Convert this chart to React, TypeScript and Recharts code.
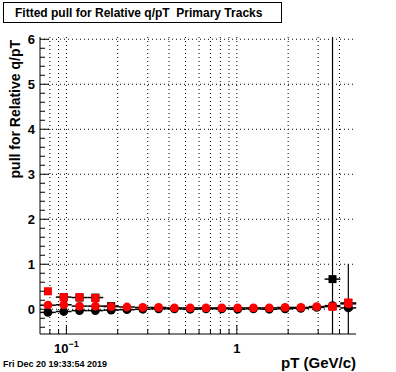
import React from 'react';
import { ScatterChart, Scatter, XAxis, YAxis, CartesianGrid, ErrorBar } from 'recharts';

// ---- data ----
const binEdges = [0.07, 0.0867, 0.1073, 0.1328, 0.1645, 0.2036, 0.2521, 0.3121, 0.3865, 0.4785, 0.5924, 0.7335, 0.9081, 1.1243, 1.392, 1.7235, 2.1339, 2.642, 3.2711, 4.0499, 5.0142];
const binCenters = [0.0779, 0.0965, 0.1194, 0.1479, 0.1831, 0.2267, 0.2807, 0.3475, 0.4302, 0.5327, 0.6595, 0.8165, 1.0109, 1.2516, 1.5496, 1.9186, 2.3754, 2.941, 3.641, 4.508];

// y errors: [below, above], as far as they are visible inside the frame
const blackCircleY = [-0.07, -0.05, -0.03, -0.03, -0.02, -0.01, 0.0, 0.01, 0.01, 0.0, 0.01, 0.01, 0.0, 0.01, 0.0, 0.01, 0.02, 0.04, 0.08, 0.03];
const blackCircleErr = [[0.02, 0.02], [0.02, 0.02], [0.02, 0.02], [0.02, 0.02], [0.02, 0.02], [0.02, 0.02], [0.02, 0.02], [0.02, 0.02], [0.02, 0.02], [0.02, 0.02], [0.02, 0.02], [0.02, 0.02], [0.02, 0.02], [0.02, 0.02], [0.02, 0.02], [0.03, 0.03], [0.03, 0.03], [0.04, 0.04], [0.06, 0.06], [0.58, 0.97]];
const blackSquareY: (number | null)[] = [null, 0.27, 0.26, 0.26, 0.07, null, null, null, null, null, null, null, null, null, null, null, null, null, 0.67, 0.14];
const blackSquareErr = [[0, 0], [0.03, 0.03], [0.03, 0.03], [0.03, 0.03], [0.03, 0.03], [0, 0], [0, 0], [0, 0], [0, 0], [0, 0], [0, 0], [0, 0], [0, 0], [0, 0], [0, 0], [0, 0], [0, 0], [0, 0], [1.22, 5.38], [0.05, 0.05]];
const redCircleY: (number | null)[] = [0.09, 0.1, 0.07, 0.07, 0.06, 0.05, 0.04, 0.04, 0.03, 0.03, 0.03, 0.03, 0.03, 0.03, 0.03, 0.04, 0.04, 0.06, 0.06, 0.12];
const redCircleErr = [[0.02, 0.02], [0.02, 0.02], [0.02, 0.02], [0.02, 0.02], [0.02, 0.02], [0.02, 0.02], [0.02, 0.02], [0.02, 0.02], [0.02, 0.02], [0.02, 0.02], [0.02, 0.02], [0.02, 0.02], [0.02, 0.02], [0.02, 0.02], [0.02, 0.02], [0.02, 0.02], [0.03, 0.03], [0.03, 0.03], [0.04, 0.04], [0.05, 0.05]];
const redSquareY: (number | null)[] = [0.4, 0.27, 0.27, 0.25, null, null, null, null, null, null, null, null, null, null, null, null, null, null, 0.055, 0.15];

const xGridValues = [0.08, 0.09, 0.1, 0.2, 0.3, 0.4, 0.5, 0.6, 0.7, 0.8, 0.9, 1, 2, 3, 4];
const xMajorTicks = [0.1, 1];
const xMajorLabels = [['10', '\u22121'], ['1', '']];
const yTicks = [-0.4, -0.2, 0, 0.2, 0.4, 0.6, 0.8, 1, 1.2, 1.4, 1.6, 1.8, 2, 2.2, 2.4, 2.6, 2.8, 3, 3.2, 3.4, 3.6, 3.8, 4, 4.2, 4.4, 4.6, 4.8, 5, 5.2, 5.4, 5.6, 5.8, 6];
const yMajorTicks = [0, 1, 2, 3, 4, 5, 6];

const titleText = 'Fitted pull for Relative q/pT  Primary Tracks';
const xTitle = 'pT (GeV/c)';
const yTitle = 'pull for Relative q/pT';
const dateText = 'Fri Dec 20 19:33:54 2019';

// ---- layout ----
const W = 396;
const H = 372;
const PL = 40;
const PT = 37;
const X_AXIS_H = 38;
const PB = H - X_AXIS_H;
const FONT = "'Liberation Sans', Arial, Helvetica, sans-serif";

const makeSeries = (ys: (number | null)[], errs: number[][]) =>
  binCenters
    .map((x, i) => ({ x, y: ys[i], ex: [x - binEdges[i], binEdges[i + 1] - x], ey: errs[i] }))
    .filter((d) => d.y !== null && d.y !== undefined);

const blackCircles = makeSeries(blackCircleY, blackCircleErr);
const blackSquares = makeSeries(blackSquareY, blackSquareErr);
const redCircles = makeSeries(redCircleY, redCircleErr);
const redSquares = makeSeries(redSquareY, redCircleErr);

const XTick = (props: any) => {
  const { x, payload } = props;
  const v = payload.value;
  const mi = xMajorTicks.indexOf(v);
  const major = mi >= 0;
  return (
    <g>
      <line x1={x} x2={x} y1={PB} y2={PB - (major ? 9 : 5)} stroke="#000" strokeWidth={1} />
      {major && (
        <text x={x} y={353} textAnchor="middle" fontFamily={FONT} fontWeight="bold" fontSize={13} fill="#000">
          {xMajorLabels[mi][0]}
          {xMajorLabels[mi][1] && (
            <tspan dy={-6} fontSize={9}>
              {xMajorLabels[mi][1]}
            </tspan>
          )}
        </text>
      )}
    </g>
  );
};

const YTick = (props: any) => {
  const { y, payload } = props;
  const v = payload.value;
  const major = yMajorTicks.indexOf(v) >= 0;
  return (
    <g>
      <line x1={PL} x2={PL + (major ? 9 : 5)} y1={y} y2={y} stroke="#000" strokeWidth={1} />
      {major && (
        <text x={35} y={y + 5} textAnchor="end" fontFamily={FONT} fontWeight="bold" fontSize={13} fill="#000">
          {String(v)}
        </text>
      )}
    </g>
  );
};

const squareShape = (color: string) => (p: any) =>
  <rect x={p.cx - 4} y={p.cy - 4} width={8} height={8} fill={color} />;
const circleShape = (color: string) => (p: any) =>
  <circle cx={p.cx} cy={p.cy} r={4.4} fill={color} />;

export default function App() {
  return (
    <div style={{ position: 'absolute', left: 0, top: 0, width: W, height: H, background: '#fff' }}>
      <ScatterChart width={W} height={H} margin={{ top: PT, right: 40, bottom: 0, left: 0 }}>
        <CartesianGrid
          verticalValues={xGridValues}
          horizontalValues={yMajorTicks}
          stroke="#000"
          strokeDasharray="1 3"
        />
        <XAxis
          dataKey="x"
          type="number"
          scale="log"
          domain={[0.07, 5]}
          allowDataOverflow
          ticks={xGridValues}
          interval={0}
          tick={<XTick />}
          tickLine={false}
          axisLine={{ stroke: '#000' }}
          height={X_AXIS_H}
        />
        <XAxis xAxisId="top" orientation="top" type="number" domain={[0, 1]} height={0} tick={false} tickLine={false} axisLine={{ stroke: '#000' }} />
        <YAxis
          dataKey="y"
          type="number"
          domain={[-0.55, 6.05]}
          allowDataOverflow
          ticks={yTicks}
          interval={0}
          tick={<YTick />}
          tickLine={false}
          axisLine={{ stroke: '#000' }}
          width={PL}
        />
        <YAxis yAxisId="right" orientation="right" type="number" domain={[0, 1]} width={0} tick={false} tickLine={false} axisLine={{ stroke: '#000' }} />

        <Scatter data={blackCircles} isAnimationActive={false} shape={circleShape('#000')}>
          <ErrorBar dataKey="ex" direction="x" width={0} stroke="#000" strokeWidth={1.5} />
          <ErrorBar dataKey="ey" direction="y" width={0} stroke="#000" strokeWidth={1.2} />
        </Scatter>
        <Scatter data={blackSquares} isAnimationActive={false} shape={squareShape('#000')}>
          <ErrorBar dataKey="ex" direction="x" width={0} stroke="#000" strokeWidth={1.5} />
          <ErrorBar dataKey="ey" direction="y" width={0} stroke="#000" strokeWidth={1.2} />
        </Scatter>
        <Scatter data={redCircles} isAnimationActive={false} shape={circleShape('#ff0000')}>
          <ErrorBar dataKey="ex" direction="x" width={0} stroke="#000" strokeWidth={1.5} />
          <ErrorBar dataKey="ey" direction="y" width={0} stroke="#000" strokeWidth={1.2} />
        </Scatter>
        <Scatter data={redSquares} isAnimationActive={false} shape={squareShape('#ff0000')} />
      </ScatterChart>
      <svg width={W} height={H} style={{ position: 'absolute', left: 0, top: 0, pointerEvents: 'none' }}>
        <rect x={3.5} y={2.5} width={278} height={20} fill="#fff" stroke="#000" strokeWidth={1} />
        <text x={15} y={17} fontFamily={FONT} fontWeight="bold" fontSize={12} fill="#000" style={{ whiteSpace: 'pre' }}>
          {titleText}
        </text>
        <text x={356} y={368} textAnchor="end" fontFamily={FONT} fontWeight="bold" fontSize={15} fill="#000">
          {xTitle}
        </text>
        <text transform="translate(20, 40) rotate(-90)" textAnchor="end" fontFamily={FONT} fontWeight="bold" fontSize={14} fill="#000">
          {yTitle}
        </text>
        <text x={3} y={367} fontFamily={FONT} fontWeight="bold" fontSize={9} fill="#000">
          {dateText}
        </text>
      </svg>
    </div>
  );
}
